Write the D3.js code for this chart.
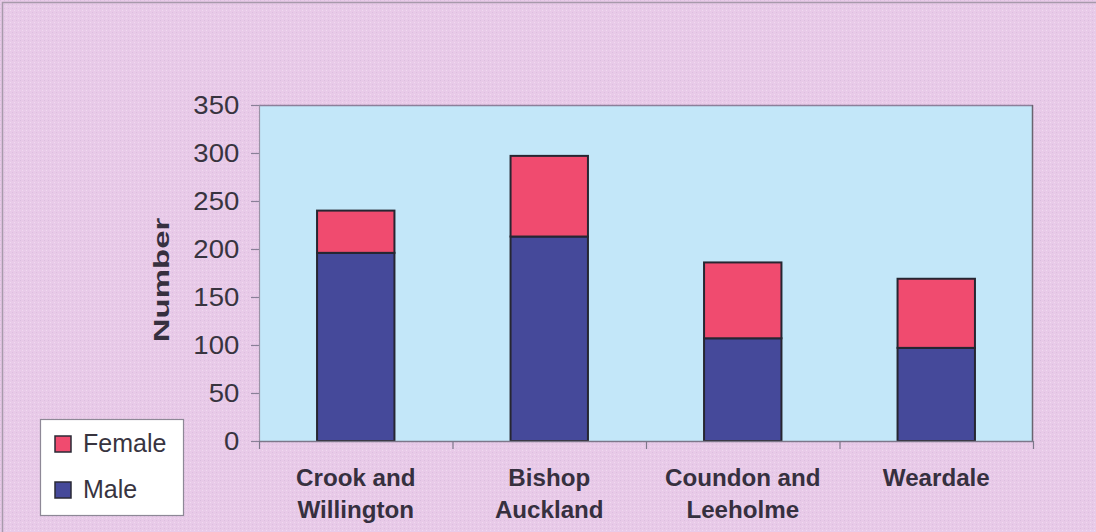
<!DOCTYPE html>
<html><head><meta charset="utf-8">
<script src="https://cdn.jsdelivr.net/npm/d3@7"></script>
<style>html,body{margin:0;padding:0;background:#e8cdea;}svg{display:block;}</style>
</head><body>
<svg id="c" width="1096" height="532"></svg>
<script>
const categories = ["Crook and Willington", "Bishop Auckland", "Coundon and Leeholme", "Weardale"];
const categoryLines = [["Crook and", "Willington"], ["Bishop", "Auckland"], ["Coundon and", "Leeholme"], ["Weardale"]];
const maleValues = [196, 213, 107, 97];
const femaleValues = [44, 84, 79, 72];
const seriesNames = ["Male", "Female"];
const yTicks = [0, 50, 100, 150, 200, 250, 300, 350];
const yTitle = "Number";

const colors = {Male: "#45499a", Female: "#f04b6f"};
const svg = d3.select("#c");
const W = 1096, H = 532;

// background with faint dither pattern
const defs = svg.append("defs");
const pat = defs.append("pattern").attr("id", "dith").attr("width", 4).attr("height", 4).attr("patternUnits", "userSpaceOnUse");
pat.append("rect").attr("width", 4).attr("height", 4).attr("fill", "#e8cae8");
pat.append("rect").attr("x", 0).attr("y", 0).attr("width", 1).attr("height", 1).attr("fill", "#dcbfdf");
pat.append("rect").attr("x", 2).attr("y", 2).attr("width", 1).attr("height", 1).attr("fill", "#f0daf0");
svg.append("rect").attr("width", W).attr("height", H).attr("fill", "url(#dith)");
svg.append("rect").attr("x", 2.5).attr("y", 2.5).attr("width", W + 10).attr("height", H + 10)
  .attr("fill", "none").attr("stroke", "#a79aab").attr("stroke-width", 1.5);

const L = 259, R = 1033, T = 105, B = 441;
const y = d3.scaleLinear().domain([0, 350]).range([B, T]);
const x = d3.scaleBand().domain(categories).range([L, R]).paddingInner(0.6).paddingOuter(0.3);

// plot area
svg.append("rect").attr("x", L).attr("y", T).attr("width", R - L).attr("height", B - T).attr("fill", "#c3e7f9");
svg.append("line").attr("x1", L).attr("x2", R).attr("y1", T + 0.5).attr("y2", T + 0.5).attr("stroke", "#8c7f9a").attr("stroke-width", 1.5);
svg.append("line").attr("x1", R - 0.5).attr("x2", R - 0.5).attr("y1", T).attr("y2", B).attr("stroke", "#6a6470").attr("stroke-width", 1.5);

// stacked data
const rows = categories.map((c, i) => ({cat: c, Male: maleValues[i], Female: femaleValues[i]}));
const stack = d3.stack().keys(seriesNames)(rows);
svg.append("g").selectAll("g").data(stack).join("g")
  .attr("fill", d => colors[d.key])
  .selectAll("rect").data(d => d).join("rect")
  .attr("x", d => x(d.data.cat))
  .attr("y", d => y(d[1]))
  .attr("width", x.bandwidth())
  .attr("height", d => y(d[0]) - y(d[1]))
  .attr("stroke", "#262632").attr("stroke-width", 2);

// y axis
const yAxis = svg.append("g").attr("transform", `translate(${L},0)`)
  .call(d3.axisLeft(y).tickValues(yTicks).tickSize(8).tickPadding(10).tickSizeOuter(0));
yAxis.select(".domain").attr("stroke", "#9a93a6").attr("stroke-width", 1.2);
yAxis.selectAll(".tick line").attr("stroke", "#8a8098").attr("stroke-width", 1.2);
yAxis.selectAll(".tick text").attr("font-family", "Liberation Sans, Arial, sans-serif")
  .attr("font-size", 25).attr("fill", "#38343f").attr("transform", "scale(1.1,1)").attr("dy", "0.34em");

// x axis: boundary ticks
const xb = d3.scaleLinear().domain([0, categories.length]).range([L, R]);
const xAxis = svg.append("g").attr("transform", `translate(0,${B})`)
  .call(d3.axisBottom(xb).tickValues(d3.range(0, categories.length + 1)).tickSize(8).tickFormat("").tickSizeOuter(0));
xAxis.select(".domain").attr("stroke", "#7d778a").attr("stroke-width", 1.5);
xAxis.selectAll(".tick line").attr("stroke", "#7d778a").attr("stroke-width", 1.2);

// x labels via band axis
const xl = svg.append("g").attr("transform", `translate(0,${B})`)
  .call(d3.axisBottom(x).tickSize(0).tickFormat(""));
xl.select(".domain").remove();
xl.selectAll(".tick").each(function(d, i) {
  const t = d3.select(this).append("text")
    .attr("font-family", "Liberation Sans, Arial, sans-serif").attr("font-weight", "bold")
    .attr("font-size", 23).attr("fill", "#36303f").attr("text-anchor", "middle")
    .attr("transform", "scale(1.05,1)");
  categoryLines[i].forEach((ln, j) => {
    t.append("tspan").attr("x", 0).attr("y", 45 + j * 32).text(ln);
  });
});

// y title
svg.append("text").attr("transform", "translate(169,280) rotate(-90) scale(1.5,1)")
  .attr("text-anchor", "middle").attr("font-family", "Liberation Sans, Arial, sans-serif")
  .attr("font-weight", "bold").attr("font-size", 22).attr("fill", "#36303f").text(yTitle);

// legend
const lg = svg.append("g");
lg.append("rect").attr("x", 40.5).attr("y", 419.5).attr("width", 143).attr("height", 96)
  .attr("fill", "#ffffff").attr("stroke", "#8d8896").attr("stroke-width", 1.2);
const legendItems = ["Female", "Male"];
legendItems.forEach((k, i) => {
  const yy = 436 + i * 46;
  lg.append("rect").attr("x", 55).attr("y", yy).attr("width", 16).attr("height", 16)
    .attr("fill", colors[k]).attr("stroke", "#2a2a36").attr("stroke-width", 1.5);
  lg.append("text").attr("x", 83).attr("y", yy + 16).attr("font-family", "Liberation Sans, Arial, sans-serif")
    .attr("font-size", 25).attr("fill", "#38343f").text(k);
});
</script>
</body></html>
